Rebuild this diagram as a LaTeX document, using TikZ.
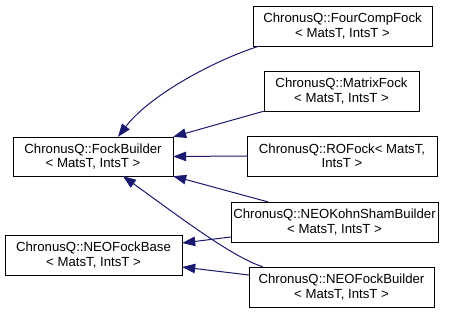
\documentclass[tikz,border=0pt]{standalone}
\usepackage{fontspec}
\setmainfont{Liberation Sans}
\usepackage{tikz}
\usetikzlibrary{arrows.meta}

\begin{document}
\begin{tikzpicture}[x=1pt, y=-1pt,
    cls/.style={draw=black, fill=white, align=center, inner sep=0pt,
        minimum height=40pt, font=\fontsize{13.2}{14.5}\selectfont},
    inh/.style={draw={rgb,255:red,25;green,25;blue,112}, line width=1pt,
        {Triangle[length=13pt,width=9.5pt]}-}]
    \useasboundingbox (0,0) rectangle (459,313);
    % base classes
    \node[cls, minimum width=160pt, minimum height=39pt] (fb) at (93,156.5) {ChronusQ::FockBuilder\\ < MatsT, IntsT >};
    \node[cls, minimum width=177pt] (nfb) at (93.5,255) {ChronusQ::NEOFockBase\\ < MatsT, IntsT >};
    % derived classes
    \node[cls, minimum width=179pt] (fcf) at (342.5,26) {ChronusQ::FourCompFock\\ < MatsT, IntsT >};
    \node[cls, minimum width=155pt] (mf) at (341.5,91) {ChronusQ::MatrixFock\\ < MatsT, IntsT >};
    \node[cls, minimum width=190pt] (rof) at (342,156) {ChronusQ::ROFock< MatsT,\\ IntsT >};
    \node[cls, minimum width=207pt] (neoks) at (334.5,222) {ChronusQ::NEOKohnShamBuilder\\ < MatsT, IntsT >};
    \node[cls, minimum width=185pt] (neofb) at (341.5,287) {ChronusQ::NEOFockBuilder\\ < MatsT, IntsT >};
    % inheritance arrows
    \draw[inh] ([xshift=25pt]fb.north) .. controls +(32,-42) and +(-44,14) .. ([xshift=6pt]fcf.south west);
    \draw[inh] (fb.north east) -- (mf.south west);
    \draw[inh] (fb.east) -- (rof.west);
    \draw[inh] (fb.south east) .. controls +(30,8) and +(-30,-8) .. ([xshift=37pt]neoks.north west);
    \draw[inh] ([xshift=30pt]fb.south) .. controls +(57,41) and +(-31,-10) .. ([xshift=14pt]neofb.north west);
    \draw[inh] ([yshift=12pt]nfb.east) -- ([yshift=-15pt]neoks.west);
    \draw[inh] ([yshift=-12pt]nfb.east) -- ([yshift=12pt]neofb.west);
\end{tikzpicture}
\end{document}
